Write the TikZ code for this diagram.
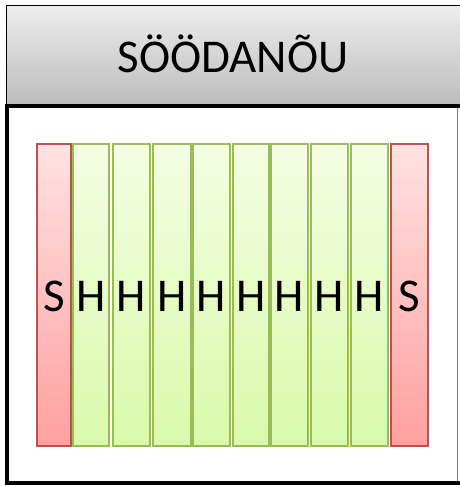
\documentclass[tikz,border=0pt]{standalone}
\usepackage{fontspec}
\setmainfont{Carlito}
\definecolor{sred}{HTML}{C0504D}
\definecolor{sredtop}{HTML}{FFE2E2}
\definecolor{sredbot}{HTML}{FFA0A0}
\definecolor{hgreen}{HTML}{9BBB59}
\definecolor{hgreentop}{HTML}{F3FEE3}
\definecolor{hgreenbot}{HTML}{D9F9A9}
\definecolor{headtop}{HTML}{EDEDED}
\definecolor{headbot}{HTML}{BCBCBC}
\begin{document}
\begin{tikzpicture}[x=1pt,y=-1pt,
  bar/.style={draw, line width=2pt, minimum height=302pt, inner sep=0pt, anchor=north west,
    font=\fontsize{47}{50}\selectfont},
  sbar/.style={bar, draw=sred, top color=sredtop, bottom color=sredbot},
  hbar/.style={bar, draw=hgreen, top color=hgreentop, bottom color=hgreenbot},
  header/.style={draw=black, line width=1.3pt, top color=headtop, bottom color=headbot,
    minimum width=470pt, minimum height=99.5pt, inner sep=0pt, anchor=north west},
  title/.style={font=\fontsize{47}{50}\selectfont, anchor=base}]
\useasboundingbox (0,0) rectangle (459,486);
% header
\node[header] (head) at (6,5) {};
\node[title] (htext) at (233,73) {SÖÖDANÕU};
% main frame
\draw[line width=4pt] (470,106.5) -- (7,106.5) -- (7,482.5) -- (470,482.5);
\draw[gray, line width=1.2pt] (457.8,108.5) -- (457.8,480.5);
% bars
\node[sbar, minimum width=34pt] (s1) at (36,143) {};
\node[hbar, minimum width=36pt] (h1) at (72,143) {};
\node[hbar, minimum width=37pt] (h2) at (112,143) {};
\node[hbar, minimum width=38pt] (h3) at (152,143) {};
\node[hbar, minimum width=37pt] (h4) at (192,143) {};
\node[hbar, minimum width=35.5pt] (h5) at (232,143) {};
\node[hbar, minimum width=37.5pt] (h6) at (269.5,143) {};
\node[hbar, minimum width=37pt] (h7) at (310,143) {};
\node[hbar, minimum width=37pt] (h8) at (350,143) {};
\node[sbar, minimum width=37pt] (s2) at (389.5,143) {};
% labels
\foreach \n/\t in {s1/S,h1/H,h2/H,h3/H,h4/H,h5/H,h6/H,h7/H,h8/H,s2/S}{
  \node[font=\fontsize{47}{50}\selectfont, anchor=base] (l\n) at ([yshift=-16pt]\n.center) {\t};
}
\end{tikzpicture}
\end{document}
